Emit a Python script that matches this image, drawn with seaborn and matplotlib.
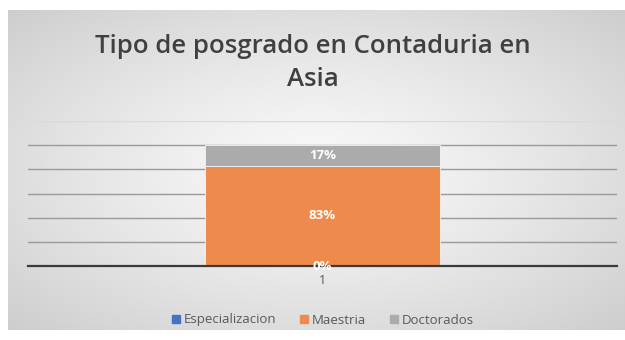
import numpy as np
import pandas as pd
import matplotlib.pyplot as plt
import seaborn as sns

# datos
categorias = ["1"]
series = ["Especializacion", "Maestria", "Doctorados"]
valores = [0.0, 0.83, 0.17]
etiquetas = ["0%", "83%", "17%"]
colores = ["#4472C4", "#EE8B4C", "#ABABAB"]
titulo = "Tipo de posgrado en Contaduria en\nAsia"

sns.set_theme(style="white")
plt.rcParams["font.family"] = ["Open Sans", "DejaVu Sans"]

fig = plt.figure(figsize=(6.25, 3.4), dpi=100)
fig.patch.set_facecolor("white")

# fondo con degradado radial del área del gráfico
bg = fig.add_axes([8 / 625, 1 - 330 / 340, 617 / 625, 320 / 340], zorder=0)
yy, xx = np.mgrid[-1:1:200j, -1:1:400j]
r = np.clip(np.sqrt(xx ** 2 + yy ** 2) / np.sqrt(2), 0, 1)
gris = 0.975 - 0.17 * r ** 1.3
img = np.dstack([gris, gris, gris])
bg.imshow(img, aspect="auto", extent=[0, 1, 0, 1])
bg.set_axis_off()

ax = fig.add_axes([28 / 625, 1 - 266 / 340, 589 / 625, 145 / 340], zorder=1)
ax.patch.set_alpha(0)

abajo = 0.0
for serie, val, col, lab in zip(series, valores, colores, etiquetas):
    sns.barplot(x=[categorias[0]], y=[val], bottom=abajo, color=col, width=0.4,
                ax=ax, saturation=1, zorder=3, edgecolor="#f4f4f4", linewidth=0.6)
    ax.text(0, abajo + val / 2, lab, ha="center", va="center", color="white",
            fontsize=9.5, fontweight="bold", zorder=5)
    abajo += val

ax.set_xlim(-0.5, 0.5)
ax.set_ylim(0, 1.2)
ax.set_yticks(np.arange(0, 1.21, 0.2))
ax.yaxis.grid(True, color="#9a9a9a", linewidth=1.0, zorder=0)
ax.get_ygridlines()[-1].set_color("#dadada")
ax.set_yticklabels([])
ax.tick_params(axis="y", length=0)
ax.tick_params(axis="x", length=0, labelsize=9, labelcolor="#595959", pad=6)
ax.set_xlabel("")
ax.set_ylabel("")
for lado in ["top", "right", "left"]:
    ax.spines[lado].set_visible(False)
ax.spines["bottom"].set_color("#3a3a3a")
ax.spines["bottom"].set_linewidth(1.6)
ax.spines["bottom"].set_zorder(4)

fig.text(0.5, 1 - 63 / 340, titulo, ha="center", va="center", fontsize=18.5,
         color="#404040", linespacing=1.42, fontweight="semibold")

handles = [plt.Rectangle((0, 0), 1, 1, color=c) for c in colores]
fig.legend(handles, series, loc="center", bbox_to_anchor=(0.517, 1 - 320 / 340),
           ncol=3, frameon=False, fontsize=9.5, handlelength=0.6, handleheight=0.6,
           columnspacing=1.8, handletextpad=0.3, labelcolor="#595959")

fig.savefig("out.png", dpi=100)
